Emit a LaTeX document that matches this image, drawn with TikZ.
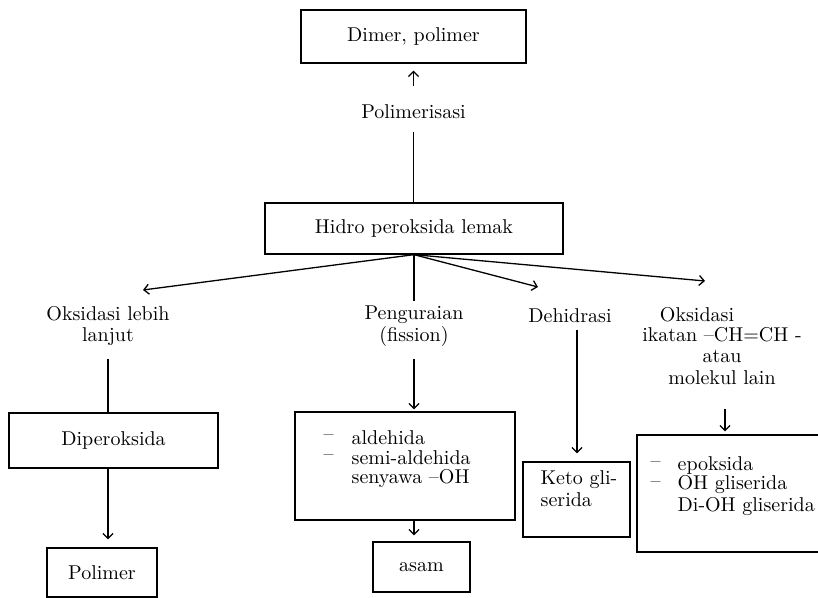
\documentclass[tikz,border=0pt]{standalone}
\usetikzlibrary{arrows.meta}
\begin{document}
\begin{tikzpicture}[x=0.5pt,y=-0.5pt,
  line width=0.65pt,
  box/.style={draw, rectangle, inner sep=0pt},
  lbl/.style={inner sep=2pt, align=center, font=\fontsize{10}{10.8}\selectfont},
  txt/.style={inner sep=0pt, anchor=west},
  arr/.style={-{Straight Barb[length=2.5pt,width=5pt]}}]
\useasboundingbox (0,0) rectangle (818,598);
\clip (0,0) rectangle (818,598);
% top
\node[box, minimum width=112.5pt, minimum height=26.5pt] (dimer) at (413.5,36.5) {Dimer, polimer};
\node[lbl] (polim) at (413.5,112) {Polimerisasi};
\node[box, minimum width=149pt, minimum height=25.5pt] (hidro) at (414,228.5) {Hidro peroksida lemak};
\draw[arr, shorten <=7pt, shorten >=3.5pt] (polim.north) -- (polim.north |- dimer.south);
\draw[shorten >=4pt] (hidro.north -| polim) -- (polim.south);
% second level labels
\node[lbl] (okl) at (108,326) {Oksidasi lebih\\lanjut};
\node[lbl] (peng) at (414,326) {Penguraian\\(fission)};
\node[lbl] (dh) at (570,316) {Dehidrasi};
\node[lbl] (ox) at (697,315) {Oksidasi};
\node[lbl] (oxl) at (722,356) {ikatan --CH=CH -\\atau\\molekul lain};
\coordinate (tOk) at (143,290);
\coordinate (tDh) at (538,287);
\coordinate (tOx) at (705,281);
\coordinate (dhx) at (577,0);
\coordinate (rbx) at (725,0);
\draw[arr] (hidro.south) -- (tOk);
\draw (hidro.south) -- (peng.north);
\draw[arr] (hidro.south) -- (tDh);
\draw[arr] (hidro.south) -- (tOx);
% left column
\node[box, minimum width=104.5pt, minimum height=27.5pt] (dip) at (113.5,440.5) {Diperoksida};
\node[box, minimum width=55pt, minimum height=24.5pt] (pol) at (102,572.5) {Polimer};
\draw[shorten <=4pt] (okl.south) -- (okl.south |- dip.north);
\draw[arr, shorten >=4pt] (dip.south -| okl.south) -- (pol.north -| okl.south);
% middle column
\node[box, minimum width=110pt, minimum height=54pt] (ald) at (405,466) {};
\node[txt] (a1d) at (323,438) {--};
\node[txt] (a1) at (351,438) {aldehida};
\node[txt] (a2d) at (323,458) {--};
\node[txt] (a2) at (351,458) {semi-aldehida};
\node[txt] (a3) at (351,478) {senyawa --OH};
\node[box, minimum width=48.5pt, minimum height=25pt] (asam) at (421.5,567) {asam};
\draw[arr, shorten <=4pt, shorten >=1pt] (peng.south) -- (peng.south |- ald.north);
\draw[arr, shorten >=3pt] (ald.south -| peng.south) -- (asam.north -| peng.south);
% dehidrasi column
\node[box, minimum width=53.5pt, minimum height=37.5pt] (keto) at (576.5,499.5) {};
\node[txt] (k1) at (540,480) {Keto gli-};
\node[txt] (k2) at (540,500) {serida};
\draw[arr, shorten <=1pt, shorten >=4pt] (dh.south -| dhx) -- (keto.north -| dhx);
% right column
\node[box, minimum width=96.5pt, minimum height=58.5pt] (rb) at (733.5,493.5) {};
\node[txt] (r1d) at (650,465) {--};
\node[txt] (r1) at (677,465) {epoksida};
\node[txt] (r2d) at (650,485) {--};
\node[txt] (r2) at (677,485) {OH gliserida};
\node[txt] (r3) at (677,507) {Di-OH gliserida};
\draw[arr, shorten <=10pt, shorten >=1.5pt] (oxl.south -| rbx) -- (rb.north -| rbx);
\end{tikzpicture}
\end{document}
